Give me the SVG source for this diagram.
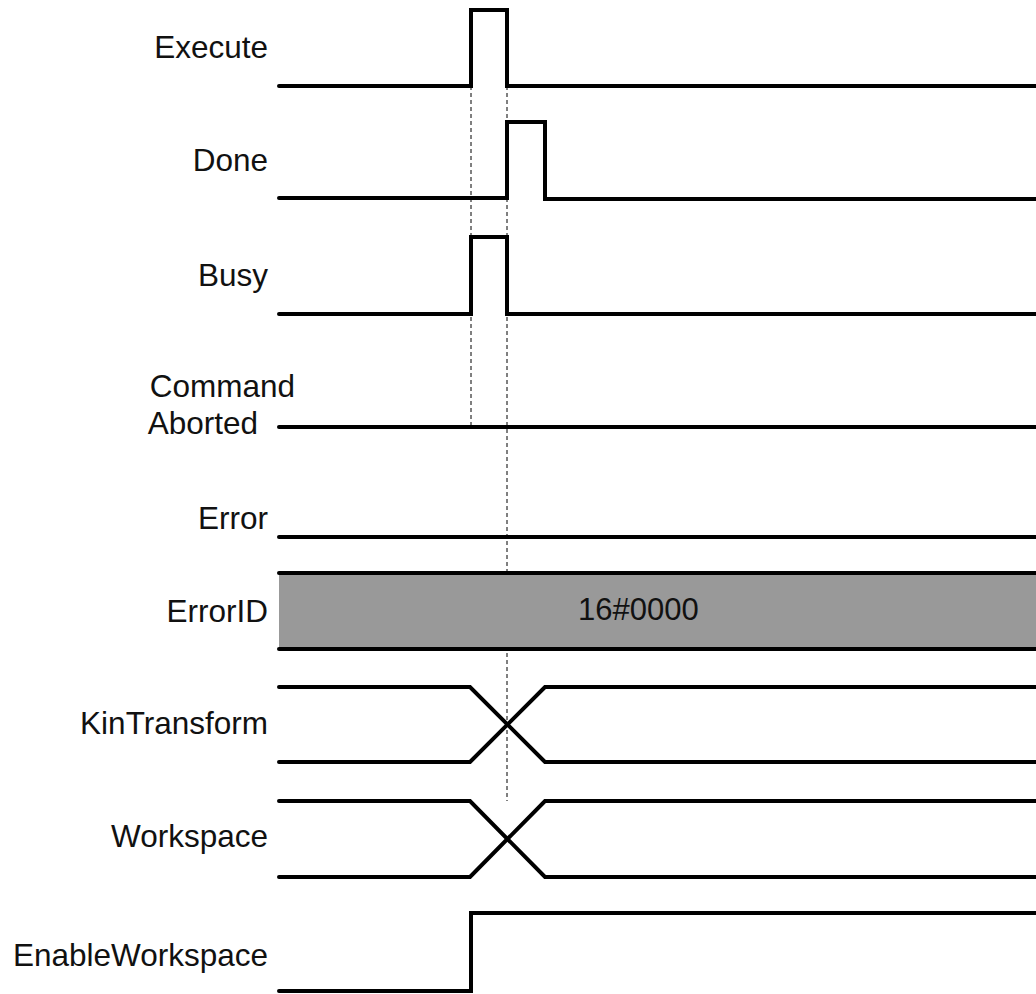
<svg xmlns="http://www.w3.org/2000/svg" width="1036" height="994" viewBox="0 0 1036 994">
  <style>
    .sig { fill: none; stroke: #000; stroke-width: 4; stroke-linejoin: miter; stroke-linecap: round; }
    .guide { fill: none; stroke: #000; stroke-width: 1; stroke-dasharray: 4 3; }
    .lbl { font-family: "Liberation Sans", Arial, sans-serif; font-size: 31.5px; fill: #111; text-anchor: end; }
    .val { font-family: "Liberation Sans", Arial, sans-serif; font-size: 31px; fill: #111; }
  </style>
  <rect width="1036" height="994" fill="#fff"/>

  <!-- timing reference lines -->
  <g id="guides">
    <line class="guide" x1="471" y1="86" x2="471" y2="427"/>
    <line class="guide" x1="507" y1="86" x2="507" y2="801"/>
  </g>

  <g id="execute">
    <text class="lbl" x="268" y="58">Execute</text>
    <polyline class="sig" points="279,86 471,86 471,10 507,10 507,86 1036,86"/>
  </g>

  <g id="done">
    <text class="lbl" x="268" y="171">Done</text>
    <polyline class="sig" points="279,198 507,198 507,122 545,122 545,199 1036,199"/>
  </g>

  <g id="busy">
    <text class="lbl" x="268" y="286">Busy</text>
    <polyline class="sig" points="279,314 471,314 471,237 507,237 507,314 1036,314"/>
  </g>

  <g id="command-aborted">
    <text class="lbl" x="295" y="397">Command</text>
    <text class="lbl" x="258" y="434">Aborted</text>
    <line class="sig" x1="279" y1="427" x2="1036" y2="427"/>
  </g>

  <g id="error">
    <text class="lbl" x="268" y="529">Error</text>
    <line class="sig" x1="279" y1="537" x2="1036" y2="537"/>
  </g>

  <g id="error-id">
    <rect x="279" y="573" width="757" height="76" fill="#999"/>
    <line class="sig" x1="279" y1="573" x2="1036" y2="573"/>
    <line class="sig" x1="279" y1="649" x2="1036" y2="649"/>
    <text class="lbl" x="268" y="622">ErrorID</text>
    <text class="val" x="578" y="620">16#0000</text>
  </g>

  <g id="kin-transform">
    <text class="lbl" x="268" y="734">KinTransform</text>
    <polyline class="sig" points="279,687 470,687 545,762 1036,762"/>
    <polyline class="sig" points="279,762 470,762 545,687 1036,687"/>
  </g>

  <g id="workspace">
    <text class="lbl" x="268" y="847">Workspace</text>
    <polyline class="sig" points="279,801 470,801 545,877 1036,877"/>
    <polyline class="sig" points="279,877 470,877 545,801 1036,801"/>
  </g>

  <g id="enable-workspace">
    <text class="lbl" x="268" y="966">EnableWorkspace</text>
    <polyline class="sig" points="279,991 471,991 471,913 1036,913"/>
  </g>
</svg>
